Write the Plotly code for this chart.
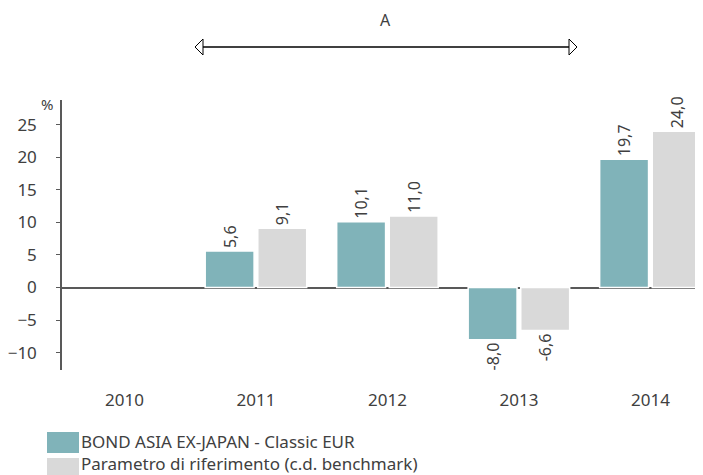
import plotly.graph_objects as go

years = ["2010", "2011", "2012", "2013", "2014"]
fund_name = "BOND ASIA EX-JAPAN - Classic EUR"
bench_name = "Parametro di riferimento (c.d. benchmark)"
fund_values = [None, 5.6, 10.1, -8.0, 19.7]
bench_values = [None, 9.1, 11.0, -6.6, 24.0]
y_ticks = [-10, -5, 0, 5, 10, 15, 20, 25]

TEAL = "#80B3B9"
GREY = "#D9D9D9"
TXT = "#404040"
AX = "#595959"
FONT = "Noto Sans"

OFF = 8  # page body margin
W, H = 703 - OFF, 475 - OFF
ML, MT = 62 - OFF, 100 - OFF
MR, MB = 0, 105
PW, PH = W - ML - MR, H - MT - MB


def px(x):
    return (x - OFF - ML) / PW


def py(y):
    return (H - MB - (y - OFF)) / PH


def label(v):
    return "" if v is None else f"{v:.1f}".replace(".", ",")


fig = go.Figure()
for name, vals, col in [(fund_name, fund_values, TEAL), (bench_name, bench_values, GREY)]:
    fig.add_trace(go.Bar(
        x=years, y=vals, name=name,
        marker=dict(color=col, line=dict(color="white", width=1.5)),
        text=[label(v) for v in vals], textposition="outside", textangle=-90,
        textfont=dict(family=FONT, size=16, color=TXT),
        cliponaxis=False, showlegend=False,
    ))

shapes = []
ay = py(47)
shapes.append(dict(type="line", xref="paper", yref="paper", x0=px(203), x1=px(569), y0=ay, y1=ay,
                   line=dict(color="black", width=1.5)))
shapes.append(dict(type="path", xref="paper", yref="paper",
                   path=f"M {px(195)},{ay} L {px(203)},{py(39)} L {px(203)},{py(55)} Z",
                   line=dict(color="black", width=1), fillcolor="white"))
shapes.append(dict(type="path", xref="paper", yref="paper",
                   path=f"M {px(577)},{ay} L {px(569)},{py(39)} L {px(569)},{py(55)} Z",
                   line=dict(color="black", width=1), fillcolor="white"))
shapes.append(dict(type="rect", xref="paper", yref="paper", x0=px(47), x1=px(79), y0=py(453), y1=py(432),
                   line=dict(width=0), fillcolor=TEAL))
shapes.append(dict(type="rect", xref="paper", yref="paper", x0=px(47), x1=px(79), y0=py(478), y1=py(458),
                   line=dict(width=0), fillcolor=GREY))

annotations = [
    dict(text="A", xref="paper", yref="paper", x=px(385), y=py(20), showarrow=False,
         font=dict(family=FONT, size=16, color=TXT), xanchor="center", yanchor="middle"),
    dict(text="%", xref="paper", yref="paper", x=px(47), y=py(104), showarrow=False,
         font=dict(family=FONT, size=15, color=TXT), xanchor="center", yanchor="middle"),
    dict(text=fund_name, xref="paper", yref="paper", x=px(79), y=py(441), showarrow=False,
         font=dict(family=FONT, size=17, color=TXT), xanchor="left", yanchor="middle"),
    dict(text=bench_name, xref="paper", yref="paper", x=px(79), y=py(463), showarrow=False,
         font=dict(family=FONT, size=17, color=TXT), xanchor="left", yanchor="middle"),
]

fig.update_layout(
    width=W, height=H, autosize=False,
    margin=dict(l=ML, r=MR, t=MT, b=MB, pad=0),
    paper_bgcolor="white", plot_bgcolor="white",
    barmode="group", bargap=0.2, bargroupgap=0.07,
    separators=",.",
    font=dict(family=FONT, size=16, color=TXT),
    shapes=shapes, annotations=annotations,
    xaxis=dict(type="category", range=[-0.475, 4.40], showline=False, ticks="",
               showgrid=False, zeroline=False, ticklabelstandoff=18,
               tickfont=dict(family=FONT, size=17, color=TXT)),
    yaxis=dict(range=[-12.66, 28.79], tickvals=y_ticks, showgrid=False,
               showline=True, linecolor=AX, linewidth=1.5,
               ticks="outside", ticklen=4, tickcolor=AX, tickwidth=1.2,
               zeroline=True, zerolinecolor=AX, zerolinewidth=1.5,
               ticklabelstandoff=16,
               tickfont=dict(family=FONT, size=17, color=TXT)),
)

fig.write_html("out.html")
